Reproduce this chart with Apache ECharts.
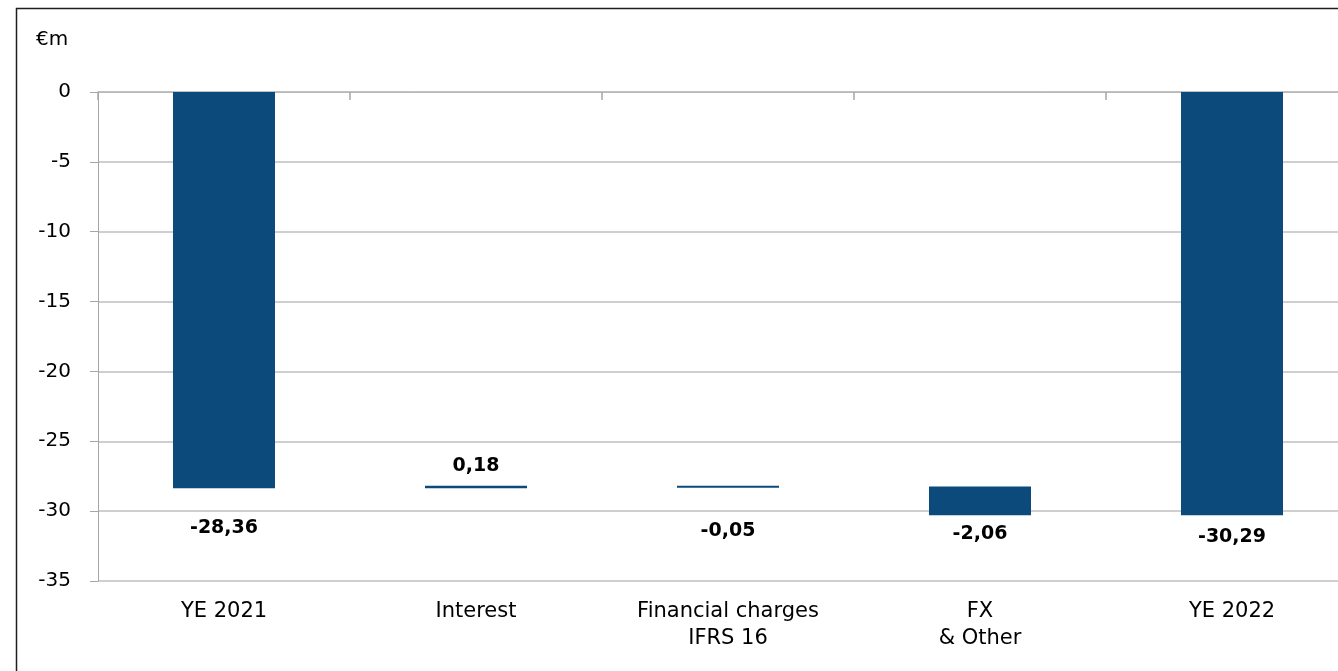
<!DOCTYPE html>
<html>
<head>
<meta charset="utf-8">
<script src="https://cdn.jsdelivr.net/npm/echarts@6/dist/echarts.min.js"></script>
<style>
html,body{margin:0;padding:0;background:#fff;overflow:hidden;width:1338px;height:671px;}
#chart{width:1358px;height:671px;}
</style>
</head>
<body>
<div id="chart"></div>
<script>
const categories = ['YE 2021', 'Interest', 'Financial charges\nIFRS 16', 'FX\n& Other', 'YE 2022'];
const values = [-28.36, 0.18, -0.05, -2.06, -30.29];
const isTotal = [true, false, false, false, true];
const yTicks = { min: -35, max: 0, interval: 5 };
const unitLabel = '€m';

// waterfall helpers derived from values
const helper = [], visible = [];
let cum = 0;
values.forEach((v, i) => {
  if (isTotal[i]) {
    helper.push(0);
    visible.push(v);
    cum = v;
  } else {
    const start = cum, end = cum + v;
    helper.push(Math.max(start, end));
    visible.push(-Math.abs(v));
    cum = end;
  }
});

const labelCfg = [
  { position: 'bottom', distance: 30 },
  { position: 'top', distance: 10 },
  { position: 'bottom', distance: 34 },
  { position: 'bottom', distance: 9 },
  { position: 'bottom', distance: 12 }
];

const fmt = v => v.toFixed(2).replace('.', ',');

const chart = echarts.init(document.getElementById('chart'), null, { renderer: 'canvas' });
chart.setOption({
  animation: false,
  backgroundColor: '#ffffff',
  textStyle: { fontFamily: 'DejaVu Sans' },
  graphic: [
    { type: 'rect', shape: { x: 16.5, y: 8.5, width: 1400, height: 800 },
      style: { fill: 'none', stroke: '#1f1f1f', lineWidth: 1.5 }, z: 0, silent: true },
    { type: 'text', left: 36, top: 30,
      style: { text: unitLabel, fontSize: 20, fill: '#000', fontFamily: 'DejaVu Sans' } }
  ],
  grid: { left: 98, top: 92, right: 0, bottom: 90, containLabel: false },
  xAxis: [
    {
      type: 'category', data: categories, position: 'bottom',
      axisLine: { show: true, lineStyle: { color: '#a6a6a6', width: 1 } },
      axisTick: { show: false },
      axisLabel: { color: '#000', fontSize: 21, margin: 17, lineHeight: 27, interval: 0, fontFamily: 'DejaVu Sans' },
      splitLine: { show: false }
    },
    {
      type: 'category', data: categories, position: 'top',
      axisLine: { show: true, lineStyle: { color: '#bfbfbf', width: 1.5 } },
      axisTick: { show: true, inside: true, length: 8, lineStyle: { color: '#a6a6a6', width: 1.5 } },
      axisLabel: { show: false },
      splitLine: { show: false }
    }
  ],
  yAxis: {
    type: 'value', min: yTicks.min, max: yTicks.max, interval: yTicks.interval,
    axisLine: { show: true, lineStyle: { color: '#a6a6a6', width: 1 } },
    axisTick: { show: true, length: 8, lineStyle: { color: '#a6a6a6' } },
    axisLabel: { color: '#000', fontSize: 20, margin: 27, fontFamily: 'DejaVu Sans' },
    splitLine: { show: true, lineStyle: { color: '#bfbfbf', width: 1.5 } }
  },
  series: [
    {
      type: 'bar', stack: 'wf', data: helper, barWidth: 102,
      itemStyle: { color: 'transparent' }, silent: true, z: 2
    },
    {
      type: 'bar', stack: 'wf', barWidth: 102, barMinHeight: 2, z: 3,
      itemStyle: { color: '#0b4a7b' },
      data: visible.map((v, i) => ({
        value: v,
        label: {
          show: true, position: labelCfg[i].position, distance: labelCfg[i].distance,
          formatter: () => fmt(values[i]),
          color: '#000', fontSize: 19, fontWeight: 'bold', fontFamily: 'DejaVu Sans'
        }
      }))
    }
  ]
});
</script>
</body>
</html>
